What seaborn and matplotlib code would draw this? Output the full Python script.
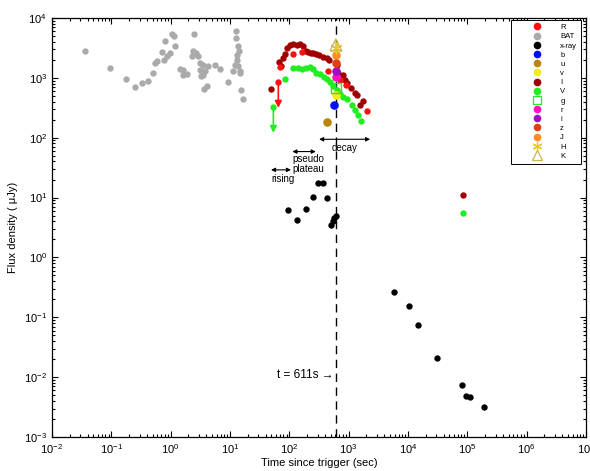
import numpy as np
import pandas as pd
import seaborn as sns
import matplotlib
matplotlib.use('Agg')
import matplotlib.pyplot as plt
from matplotlib.lines import Line2D
from matplotlib.ticker import LogLocator, NullFormatter


# BAT (gamma-ray) extrapolated flux
bat_t = [0.036, 0.095, 0.177, 0.254, 0.333, 0.411, 0.499, 0.546, 0.583, 0.775,
         0.859, 0.977, 0.708, 0.805, 1.19, 1.07, 1.14, 2.48, 2.42, 2.68,
         2.27, 2.93, 3.13, 3.56, 4.32, 5.61, 6.81, 1.44, 1.64, 1.87,
         1.64, 3.13, 3.80, 3.56, 3.22, 4.06, 3.70, 9.18, 12.5, 12.5,
         13.9, 14.2, 13.3, 13.0, 12.2, 13.9, 14.8, 11.4, 14.8, 15.4, 16.8]
bat_f = [2850, 1460, 960, 713, 813, 898, 1183, 1775, 1893, 2013,
         2294, 2606, 2676, 4083, 3450, 5470, 5010, 5470, 2780, 2606,
         2294, 2294, 1775, 1660, 1563, 1660, 1426, 1426, 1371, 1162,
         1105, 1371, 1288, 1130, 1064, 724, 653, 855, 5990, 4640,
         3370, 2780, 2440, 2013, 1660, 1563, 1318, 1318, 1207, 635, 450]

# X-ray
xr_t = [94.4, 134, 194, 255, 310, 376, 434, 501, 541, 576, 608,
        5850, 10350, 14900, 31400, 82000, 95700, 112000, 193000]
xr_f = [6.24, 4.25, 6.40, 10.4, 17.4, 17.4, 9.77, 3.50, 4.13, 4.53, 5.01,
        0.267, 0.156, 0.0750, 0.0211, 0.00738, 0.00483, 0.00471, 0.00312]

# I band
I_t = [48.8, 68.1, 72.8, 79.6, 85.0, 92.9, 103, 117, 134, 152,
       169, 192, 210, 231, 255, 283, 322, 367, 429, 474,
       632, 673, 817, 873, 955, 1090, 1288, 1375, 1563, 1757, 86300]
I_f = [653, 1820, 1581, 2125, 2506, 3118, 3541, 3680, 3541, 3637,
       3412, 2847, 2737, 2634, 2575, 2506, 2412, 2258, 2125, 1991,
       1642, 1193, 1117, 922, 813, 671, 553, 519, 353, 411, 11.1]

# R band
R_t = [70.0, 117, 163, 446, 720, 907, 2027]
R_f = [1538, 2506, 2737, 1318, 922, 761, 283]

# V band
V_t = [85.0, 117, 142, 163, 192, 224, 255, 283, 330, 386, 429,
       488, 542, 647, 720, 817, 933, 1132, 1288, 1462, 1607, 86300]
V_f = [949, 1479, 1445, 1409, 1479, 1538, 1409, 1222, 1148, 1047, 949,
       865, 733, 628, 538, 485, 444, 353, 291, 240, 193, 5.49]

# upper limits (time, flux, arrow end)
R_lim = (65.5, 865, 314)
V_lim = (54.0, 319, 120)

# single epoch multi-band points around t = 611 s
sed_bands = ['b', 'u', 'v', 'g', 'r', 'i', 'z', 'J', 'H', 'K']
sed_t = [569, 429, 611, 611, 611, 611, 611, 611, 611, 611]
sed_f = [353, 182, 519, 678, 1035, 1304, 1775, 2366, 3155, 3540]

t_mark = 611

colors = {
    'R': '#ff1010', 'BAT': '#aaaaaa', 'x-ray': 'black', 'b': '#0010ff',
    'u': '#b8860b', 'v': '#f0f010', 'I': '#a00000', 'V': '#20ee20',
    'g': '#20ee20', 'r': '#ff10c0', 'i': '#a010c0', 'z': '#e04010',
    'J': '#ff8c20', 'H': '#e8c820', 'K': '#c8b850',
}
markers = {k: 'o' for k in colors}
markers['g'] = 's'
markers['H'] = (6, 2, 0)
markers['K'] = '^'
open_bands = ['g', 'K']

sns.set_style('ticks', {'xtick.direction': 'in', 'ytick.direction': 'in',
                        'axes.edgecolor': 'black', 'xtick.color': 'black',
                        'ytick.color': 'black', 'text.color': 'black',
                        'axes.labelcolor': 'black'})
plt.rcParams['font.family'] = ['Liberation Sans', 'DejaVu Sans']
plt.rcParams['mathtext.default'] = 'regular'

fig, ax = plt.subplots(figsize=(5.9, 4.71), dpi=100)
fig.subplots_adjust(left=0.088, right=0.993, bottom=0.072, top=0.962)

ax.axvline(t_mark, color='black', ls=(0, (6, 4)), lw=1, zorder=1)

series = [('BAT', bat_t, bat_f), ('x-ray', xr_t, xr_f), ('I', I_t, I_f),
          ('V', V_t, V_f), ('R', R_t, R_f)]
for name, t, f in series:
    df = pd.DataFrame({'t': t, 'f': f})
    sns.scatterplot(data=df, x='t', y='f', ax=ax, color=colors[name],
                    marker='o', s=21, linewidth=0, legend=False, zorder=3)

# upper limits with arrows
for name, lim in [('R', R_lim), ('V', V_lim)]:
    t0, f0, f1 = lim
    sns.scatterplot(x=[t0], y=[f0], ax=ax, color=colors[name], s=21,
                    linewidth=0, legend=False, zorder=3)
    ax.annotate('', xy=(t0, f1), xytext=(t0, f0),
                arrowprops=dict(arrowstyle='-|>', color=colors[name], lw=1.2,
                                mutation_scale=10, shrinkA=0, shrinkB=0))

for band, t, f in zip(sed_bands, sed_t, sed_f):
    if band in open_bands:
        size = 70 if band == 'K' else 45
        sns.scatterplot(x=[t], y=[f], ax=ax, marker=markers[band], s=size,
                        facecolor='none', edgecolor=colors[band], linewidth=1,
                        legend=False, zorder=4)
    elif band == 'H':
        sns.scatterplot(x=[t], y=[f], ax=ax, marker=markers[band], s=60,
                        color=colors[band], linewidth=1, legend=False, zorder=4)
    else:
        sns.scatterplot(x=[t], y=[f], ax=ax, marker='o', s=38,
                        color=colors[band], linewidth=0, legend=False, zorder=4)

ax.set_xscale('log')
ax.set_yscale('log')
ax.set_xticks([10.0 ** k for k in range(-2, 8)])
ax.set_yticks([10.0 ** k for k in range(-3, 5)])
ax.set_xlim(1e-2, 1e7)
ax.set_ylim(1e-3, 1e4)
for axis in (ax.xaxis, ax.yaxis):
    axis.set_minor_locator(LogLocator(base=10, subs=np.arange(2, 10), numticks=200))
    axis.set_minor_formatter(NullFormatter())
ax.tick_params(which='both', direction='in', top=True, right=True,
               labelsize=8, width=0.8, colors='black')
ax.tick_params(which='major', length=4)
ax.tick_params(which='minor', length=2)
for s in ax.spines.values():
    s.set_linewidth(0.9)
    s.set_color('black')

ax.set_xlabel('Time since trigger (sec)', fontsize=8, labelpad=1.5)
ax.set_ylabel('Flux density ( \u03bcJy)', fontsize=8, labelpad=4)

# phase annotations
arrow_kw = dict(arrowstyle='<|-|>', color='black', lw=0.8, mutation_scale=6,
                shrinkA=0, shrinkB=0)
ax.annotate('', xy=(319, 94), xytext=(2307, 94), arrowprops=arrow_kw)
ax.text(873, 80, 'decay', fontsize=7, ha='center', va='top')
ax.annotate('', xy=(113, 58.6), xytext=(280, 58.6), arrowprops=arrow_kw)
ax.text(113, 53, 'pseudo\nplateau', fontsize=7, ha='left', va='top',
        linespacing=0.95)
ax.annotate('', xy=(49.3, 29), xytext=(107, 29), arrowprops=arrow_kw)
ax.text(49.3, 25, 'rising', fontsize=7, ha='left', va='top')
ax.text(62, 0.011, 't = 611s \u2192', fontsize=8.5, ha='left', va='center',
        family=['Liberation Sans', 'DejaVu Sans'])

# legend
order = ['R', 'BAT', 'x-ray', 'b', 'u', 'v', 'I', 'V', 'g', 'r', 'i', 'z', 'J', 'H', 'K']
handles = []
for band in order:
    if band in open_bands:
        h = Line2D([], [], ls='none', marker=markers[band],
                   markersize=7 if band == 'K' else 6, markerfacecolor='none',
                   markeredgecolor=colors[band], markeredgewidth=0.9)
    elif band == 'H':
        h = Line2D([], [], ls='none', marker=markers[band], markersize=7,
                   color=colors[band], markeredgewidth=0.9)
    else:
        h = Line2D([], [], ls='none', marker='o', markersize=4.5,
                   markerfacecolor=colors[band], markeredgecolor=colors[band])
    handles.append(h)
leg = ax.legend(handles, order, loc='upper right', bbox_to_anchor=(0.991, 0.995),
                borderaxespad=0, fontsize=5.5, labelspacing=0.24,
                handlelength=5.8, handletextpad=0.2, borderpad=0.5,
                fancybox=False, frameon=True, edgecolor='black', framealpha=1)
leg.get_frame().set_linewidth(0.7)

fig.savefig('out.png', dpi=100)
